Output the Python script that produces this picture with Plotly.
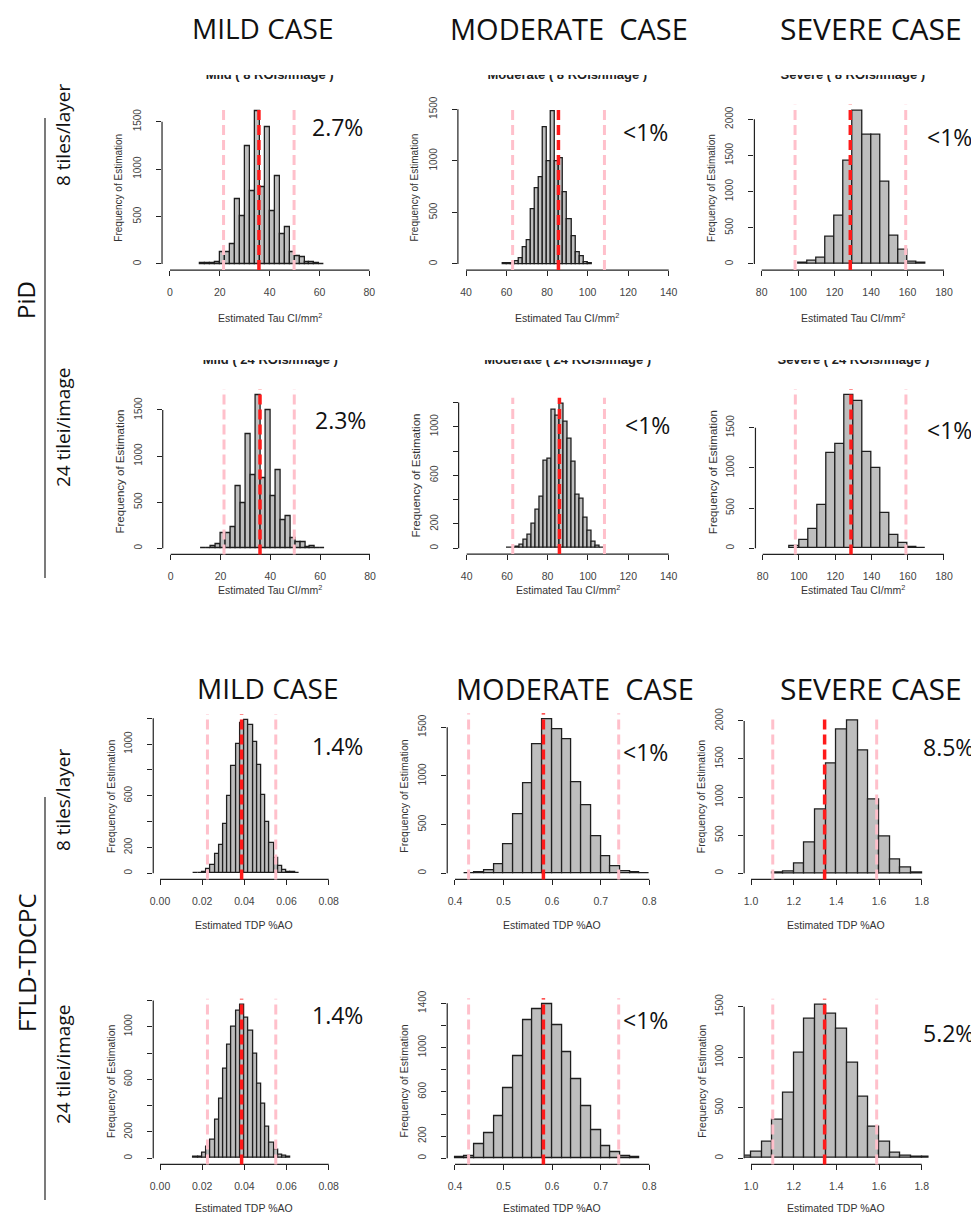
import plotly.graph_objects as go

W, H = 979, 1216
OFF = 8  # page body margin of the html page; positions below are reference-image pixels

# ---------------- data (counts of 10000 simulated estimates) ----------------
# PiD, 8 ROIs/image  (Tau CI/mm^2)
pid8_mild = [5, 5, 10, 20, 130, 130, 210, 680, 500, 1240, 770, 1610, 810, 1440, 560, 930, 310, 390, 120, 80, 75, 20, 15, 5, 3]
pid8_mod = [5, 5, 10, 30, 60, 160, 230, 530, 730, 840, 1330, 1000, 1480, 1000, 1025, 700, 436, 265, 116, 78, 20, 10]
pid8_sev = [18, 40, 88, 382, 668, 1424, 2115, 1783, 1783, 1134, 392, 189, 32, 14]
# PiD, 24 ROIs/image
pid24_mild = [3, 5, 20, 40, 160, 160, 230, 670, 490, 1240, 790, 1660, 760, 1500, 570, 850, 310, 350, 110, 65, 65, 10, 20, 3, 2]
pid24_mod = [3, 3, 10, 30, 70, 110, 200, 320, 420, 720, 740, 1140, 1090, 1190, 1040, 900, 710, 440, 410, 250, 140, 50, 20, 5]
pid24_sev = [30, 108, 245, 539, 1190, 1293, 1906, 1832, 1198, 995, 435, 162, 62, 12, 4]
# FTLD-TDP, 8 ROIs/image  (TDP %AO)
ftld8_mild = [5, 5, 12, 30, 65, 147, 219, 381, 595, 832, 997, 1160, 1185, 1147, 1018, 838, 606, 400, 237, 116, 57, 26, 13, 8, 5]
ftld8_mod = [3, 10, 30, 92, 301, 610, 925, 1325, 1580, 1483, 1380, 935, 702, 377, 178, 68, 17, 7, 3]
ftld8_sev = [13, 22, 122, 402, 840, 1443, 1889, 2003, 1609, 962, 481, 184, 74, 9]
# FTLD-TDP, 24 ROIs/image
ftld24_mild = [8, 13, 38, 84, 144, 291, 448, 676, 861, 1000, 1122, 1165, 1071, 970, 790, 562, 410, 241, 120, 68, 30, 18, 10]
ftld24_mod = [9, 21, 126, 223, 385, 638, 924, 1247, 1349, 1391, 1201, 958, 711, 467, 250, 111, 54, 18, 9]
ftld24_sev = [20, 59, 158, 376, 643, 1039, 1375, 1517, 1434, 1276, 946, 610, 313, 165, 56, 20, 10, 10]

# histogram bins: first left edge, bin width
bin_start = [12, 58, 100, 12, 60, 95, 0.016, 0.42, 1.10, 0.016, 0.40, 0.95]
bin_width = [2, 2, 5, 2, 2, 5, 0.002, 0.02, 0.05, 0.002, 0.02, 0.05]

# dashed reference lines: lower CI, true value, upper CI
ci_low = [21.5, 63.0, 98.3, 21.4, 62.8, 98.0, 0.0225, 0.428, 1.102, 0.0225, 0.428, 1.102]
true_val = [35.7, 85.6, 128.6, 35.85, 85.9, 128.7, 0.0387, 0.582, 1.345, 0.0387, 0.582, 1.345]
ci_high = [49.8, 108.3, 159.0, 49.6, 108.2, 159.0, 0.0549, 0.737, 1.589, 0.0549, 0.737, 1.589]

pct_labels = ["2.7%", "<1%", "<1%", "2.3%", "<1%", "<1%", "1.4%", "<1%", "8.5%", "1.4%", "<1%", "5.2%"]
panel_titles = ["Mild ( 8 ROIs/image )", "Moderate ( 8 ROIs/image )", "Severe ( 8 ROIs/image )",
                "Mild ( 24 ROIs/image )", "Moderate ( 24 ROIs/image )", "Severe ( 24 ROIs/image )"]
x_titles = ["Estimated Tau CI/mm<sup>2</sup>", "Estimated TDP %AO"]
y_title = "Frequency of Estimation"
headers = ["MILD CASE", "MODERATE\u00a0 CASE", "SEVERE CASE"]
row_labels = ["8 tiles/layer", "24 tilei/image", "8 tiles/layer", "24 tilei/image"]
group_labels = ["PiD", "FTLD-TDCPC"]

# tick values / labels
xt_tau_mild = [0, 20, 40, 60, 80]
xt_tau_mod = [40, 60, 80, 100, 120, 140]
xt_tau_sev = [80, 100, 120, 140, 160, 180]
xt_tdp_mild = [0.00, 0.02, 0.04, 0.06, 0.08]
xt_tdp_mod = [0.4, 0.5, 0.6, 0.7, 0.8]
xt_tdp_sev = [1.0, 1.2, 1.4, 1.6, 1.8]
xt_tdp_mild_lab = ["0.00", "0.02", "0.04", "0.06", "0.08"]
xt_tdp_mod_lab = ["0.4", "0.5", "0.6", "0.7", "0.8"]
xt_tdp_sev_lab = ["1.0", "1.2", "1.4", "1.6", "1.8"]
# labelled y ticks, and ticks whose labels R dropped (overlap)
yt_500_1500 = [0, 500, 1000, 1500]
yt_500_2000 = [0, 500, 1000, 1500, 2000]
yt_200_1200 = [0, 200, 600, 1000]
yt_200_1200_unlab = [400, 800, 1200]
yt_200_1400 = [0, 200, 600, 1000, 1400]
yt_200_1400_unlab = [400, 800, 1200]

counts_all = [pid8_mild, pid8_mod, pid8_sev, pid24_mild, pid24_mod, pid24_sev,
              ftld8_mild, ftld8_mod, ftld8_sev, ftld24_mild, ftld24_mod, ftld24_sev]
xticks_all = [xt_tau_mild, xt_tau_mod, xt_tau_sev] * 2 + [xt_tdp_mild, xt_tdp_mod, xt_tdp_sev] * 2
xlabs_all = [[str(v) for v in xt_tau_mild], [str(v) for v in xt_tau_mod], [str(v) for v in xt_tau_sev]] * 2 + \
            [xt_tdp_mild_lab, xt_tdp_mod_lab, xt_tdp_sev_lab] * 2
yticks_all = [yt_500_1500, yt_500_1500, yt_500_2000, yt_500_1500, yt_200_1200, yt_500_1500,
              yt_200_1200, yt_500_1500, yt_500_2000, yt_200_1200, yt_200_1400, yt_500_1500]
yunlab_all = [[], [], [], [], yt_200_1200_unlab, [],
              yt_200_1200_unlab, [], [], yt_200_1200_unlab, yt_200_1400_unlab, []]

# ---------------- layout geometry (pixels) ----------------
# x: pixel of first and last x tick; y: pixel of 0 and of a reference tick
geo = [
    dict(px0=170, pxN=369.3, py0=264, yref=1500, pyref=121.7),
    dict(px0=466, pxN=668.7, py0=264, yref=1500, pyref=109.3),
    dict(px0=761.7, pxN=944, py0=264, yref=2000, pyref=119.3),
    dict(px0=170.7, pxN=370, py0=548.3, yref=1500, pyref=410),
    dict(px0=466.7, pxN=668.7, py0=548.3, yref=1000, pyref=426.7),
    dict(px0=762.7, pxN=944, py0=548.3, yref=1500, pyref=427.7),
    dict(px0=160, pxN=328.7, py0=873.3, yref=1000, pyref=744),
    dict(px0=455, pxN=649.3, py0=873.3, yref=1500, pyref=727.3),
    dict(px0=751, pxN=921.7, py0=873.3, yref=1500, pyref=759),
    dict(px0=160, pxN=328.7, py0=1158.3, yref=1000, pyref=1026.7),
    dict(px0=455, pxN=649.3, py0=1158.3, yref=1400, pyref=1003.3),
    dict(px0=751, pxN=921.7, py0=1158.3, yref=1500, pyref=1006.7),
]
pct_pos = [(337, 127), (645, 132), (949, 137), (340, 420), (647, 425), (949, 430),
           (337, 746), (645, 752), (948, 747), (337, 1015), (645, 1020), (948, 1033)]
xtitle_y = [317, 317, 317, 589, 589, 589, 925, 925, 925, 1208, 1208, 1208]
ytitle_size = [10, 10, 10, 11.5, 11.5, 11.5, 10.5, 10.5, 10.5, 10.5, 10.5, 10.5]
title_cut = [75, 75, 75, 360, 360, 360]

AXFONT = "Liberation Sans, Arial, sans-serif"
DESIGNFONT = "Open Sans, sans-serif"


def fx(p):
    return (p - OFF) / W


def fy(p):
    return 1 - (p - OFF) / H


fig = go.Figure()
shapes = []
annotations = []
layout_axes = {}

for i in range(12):
    n = i + 1
    xa = "x" if n == 1 else f"x{n}"
    ya = "y" if n == 1 else f"y{n}"
    xkey = "xaxis" if n == 1 else f"xaxis{n}"
    ykey = "yaxis" if n == 1 else f"yaxis{n}"
    g = geo[i]
    cnt = counts_all[i]
    xt = xticks_all[i]
    yt = yticks_all[i]
    yall = sorted(yt + yunlab_all[i])

    # R-style 4% extended ranges
    xt0, xtN = xt[0], xt[-1]
    ppx = (g["pxN"] - g["px0"]) / (xtN - xt0)
    xr0 = xt0 - 0.04 * (xtN - xt0)
    xr1 = xtN + 0.04 * (xtN - xt0)
    dx0 = g["px0"] + (xr0 - xt0) * ppx
    dx1 = g["px0"] + (xr1 - xt0) * ppx
    M = max(cnt)
    ppy = (g["py0"] - g["pyref"]) / g["yref"]
    yr0, yr1 = -0.04 * M, 1.04 * M
    dyb = g["py0"] - yr0 * ppy
    dyt = g["py0"] - yr1 * ppy

    centers = [bin_start[i] + bin_width[i] * (k + 0.5) for k in range(len(cnt))]
    fig.add_trace(go.Bar(
        x=centers, y=cnt, width=bin_width[i], xaxis=xa, yaxis=ya,
        marker=dict(color="#BEBEBE", line=dict(color="#1e1e1e", width=1.3)),
        hoverinfo="skip", showlegend=False))

    layout_axes[xkey] = dict(
        domain=[fx(dx0), fx(dx1)], range=[xr0, xr1], anchor=ya, automargin=False,
        showgrid=False, zeroline=False, showline=False,
        tickmode="array", tickvals=xt, ticktext=xlabs_all[i],
        ticks="outside", ticklen=5, tickwidth=1, tickcolor="#222",
        tickfont=dict(family=AXFONT, size=10.5, color="#444"),
        ticklabelstandoff=7, fixedrange=True)
    ydict = dict(
        domain=[fy(dyb), fy(dyt)], range=[yr0, yr1], anchor=xa, automargin=False,
        showgrid=False, zeroline=False, showline=False,
        tickmode="array", tickvals=yt, ticktext=[str(v) for v in yt],
        ticks="outside", ticklen=5, tickwidth=1, tickcolor="#222", tickangle=-90,
        tickfont=dict(family=AXFONT, size=10, color="#444"),
        ticklabelstandoff=11, fixedrange=True)
    if yunlab_all[i]:
        ydict["minor"] = dict(tickmode="array", tickvals=yunlab_all[i], ticks="outside",
                              ticklen=5, tickwidth=1, tickcolor="#222", showgrid=False)
    layout_axes[ykey] = ydict

    # R-style axis lines spanning first..last tick
    shapes.append(dict(type="line", xref=xa, yref=f"{ya} domain", x0=xt0, x1=xtN, y0=0, y1=0,
                       line=dict(color="#222", width=1.2)))
    shapes.append(dict(type="line", xref=f"{xa} domain", yref=ya, x0=0, x1=0, y0=yall[0], y1=yall[-1],
                       line=dict(color="#222", width=1.2)))
    # dashed reference lines
    for v, col, w in ((ci_low[i], "#FFC0CB", 3), (ci_high[i], "#FFC0CB", 3), (true_val[i], "#FF1A1A", 3.5)):
        shapes.append(dict(type="line", xref=xa, yref=f"{ya} domain", x0=v, x1=v, y0=0, y1=1,
                           line=dict(color=col, width=w, dash="10px,5px")))

    # axis titles
    cx = (dx0 + dx1) / 2
    cy = (dyb + dyt) / 2
    annotations.append(dict(text=x_titles[0] if i < 6 else x_titles[1], x=fx(cx), y=fy(xtitle_y[i]),
                            xref="paper", yref="paper", showarrow=False, xanchor="center", yanchor="middle",
                            font=dict(family=AXFONT, size=10.5, color="#333")))
    annotations.append(dict(text=y_title, x=fx(dx0 - 43), y=fy(cy), xref="paper", yref="paper",
                            showarrow=False, textangle=-90, xanchor="center", yanchor="middle",
                            font=dict(family=AXFONT, size=ytitle_size[i], color="#333")))
    # percentage label
    px, py = pct_pos[i]
    annotations.append(dict(text=pct_labels[i], x=fx(px), y=fy(py), xref="paper", yref="paper",
                            showarrow=False, xanchor="center", yanchor="middle", borderpad=0,
                            font=dict(family=DESIGNFONT, size=23, color="#111")))

    # partially hidden panel titles (top of text clipped) for the PiD rows
    if i < 6:
        tn = 12 + i + 1
        txa, tya = f"x{tn}", f"y{tn}"
        strip_top = title_cut[i]
        strip_bot = title_cut[i] + 20
        layout_axes[f"xaxis{tn}"] = dict(domain=[fx(dx0), fx(dx1)], range=[0, 1], visible=False,
                                         anchor=tya, fixedrange=True, automargin=False)
        layout_axes[f"yaxis{tn}"] = dict(domain=[fy(strip_bot), fy(strip_top)], range=[0, 20],
                                         visible=False, anchor=txa, fixedrange=True, automargin=False)
        fig.add_trace(go.Scatter(x=[0.5], y=[strip_bot - (strip_top + 1)], mode="text",
                                 text=[f"<b>{panel_titles[i]}</b>"], textposition="middle center",
                                 textfont=dict(family=AXFONT, size=13, color="#222"),
                                 cliponaxis=True, xaxis=txa, yaxis=tya, hoverinfo="skip",
                                 showlegend=False))

# headers
header_pos = [[(262.5, 28), (568.5, 28), (870.5, 28)], [(267, 688), (575, 688), (870.5, 688)]]
header_size = [28, 29, 30]
for row in header_pos:
    for (hx, hy), txt, sz in zip(row, headers, header_size):
        annotations.append(dict(text=txt, x=fx(hx), y=fy(hy), xref="paper", yref="paper",
                                showarrow=False, xanchor="center", yanchor="middle",
                                font=dict(family=DESIGNFONT, size=sz, color="#111")))
# row labels
row_pos = [(63, 135), (63, 428), (63, 800), (63, 1065)]
for (rx, ry), txt in zip(row_pos, row_labels):
    annotations.append(dict(text=txt, x=fx(rx), y=fy(ry), xref="paper", yref="paper",
                            showarrow=False, textangle=-90, xanchor="center", yanchor="middle",
                            font=dict(family=DESIGNFONT, size=19, color="#111")))
group_pos = [(26, 300), (26, 963)]
for (gx, gy), txt in zip(group_pos, group_labels):
    annotations.append(dict(text=txt, x=fx(gx), y=fy(gy), xref="paper", yref="paper",
                            showarrow=False, textangle=-90, xanchor="center", yanchor="middle",
                            borderpad=0, font=dict(family=DESIGNFONT, size=24, color="#111")))
# group separator lines
for (y0, y1) in [(118, 578), (797, 1200)]:
    shapes.append(dict(type="line", xref="paper", yref="paper", x0=fx(45), x1=fx(45), y0=fy(y0), y1=fy(y1),
                       line=dict(color="#222", width=1.2)))

fig.update_layout(width=W, height=H, margin=dict(l=0, r=0, t=0, b=0, pad=0, autoexpand=False),
                  paper_bgcolor="white", plot_bgcolor="white", showlegend=False,
                  bargap=0, shapes=shapes, annotations=annotations, **layout_axes)
fig.write_html("out.html")
